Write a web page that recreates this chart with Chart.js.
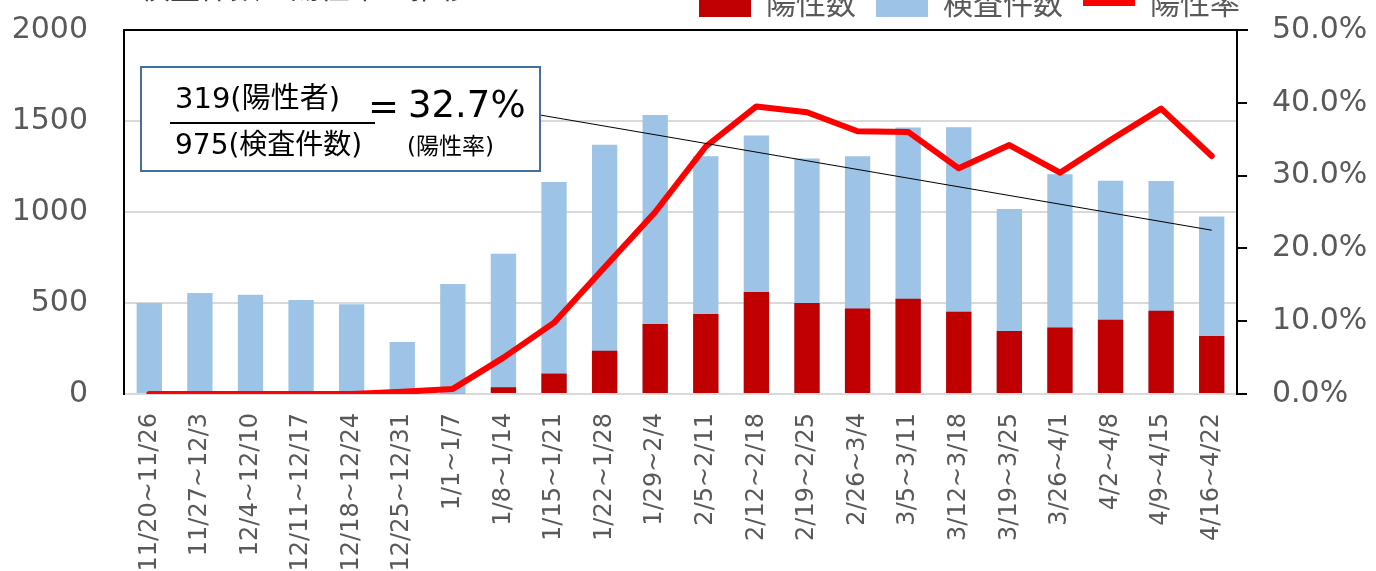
<!DOCTYPE html>
<html>
<head>
<meta charset="utf-8">
<script src="https://cdn.jsdelivr.net/npm/chart.js@4"></script>
<style>
    html, body { margin: 0; padding: 0; background: #fff; overflow: hidden; }
    #wrap { position: absolute; left: 0; top: -40px; width: 1376px; height: 611px; }
</style>
</head>
<body>
<div id="wrap"><canvas id="chart" width="1376" height="611"></canvas></div>
<script>
const weeks = ['11/20~11/26', '11/27~12/3', '12/4~12/10', '12/11~12/17', '12/18~12/24', '12/25~12/31', '1/1~1/7', '1/8~1/14', '1/15~1/21', '1/22~1/28', '1/29~2/4', '2/5~2/11', '2/12~2/18', '2/19~2/25', '2/26~3/4', '3/5~3/11', '3/12~3/18', '3/19~3/25', '3/26~4/1', '4/2~4/8', '4/9~4/15', '4/16~4/22'];
const positives = [0, 0, 0, 0, 0, 1, 4, 37, 112, 238, 385, 440, 560, 500, 470, 523, 452, 346, 366, 408, 457, 319];
const tests = [500, 555, 546, 516, 493, 286, 604, 771, 1165, 1369, 1533, 1306, 1420, 1294, 1306, 1464, 1466, 1016, 1208, 1172, 1170, 975];
const rate = [0, 0, 0, 0, 0, 0.3, 0.7, 5.0, 9.8, 17.4, 25.0, 34.0, 39.5, 38.7, 36.1, 36.0, 31.0, 34.2, 30.4, 34.9, 39.2, 32.7];
const leftTicks = [0, 500, 1000, 1500, 2000];
const rightTicks = [0, 10, 20, 30, 40, 50];

const gray = '#595959';
const jp = "'Noto Sans CJK JP', sans-serif";
const mixed = "'DejaVu Sans', 'Noto Sans CJK JP', sans-serif";

// title, top frame line, formula box and its pointer line
const extras = {
    id: 'extras',
    afterLayout(chart) {
        // legend sits a bit further right and higher than the layout puts it
        chart.legend.left += 23;
        chart.legend.right += 23;
        chart.legend.top -= 2;
        chart.legend.bottom -= 2;
    },
    afterDraw(chart) {
        const { ctx, chartArea: a, scales } = chart;
        ctx.save();
        ctx.fillStyle = '#404040';
        ctx.font = '30px ' + jp;
        ctx.textBaseline = 'alphabetic';
        ctx.fillText('検査件数と陽性率の推移', 140, 38);

        ctx.strokeStyle = '#000';
        ctx.lineWidth = 2;
        ctx.beginPath();
        ctx.moveTo(a.left, a.top);
        ctx.lineTo(a.right + 11, a.top);
        ctx.stroke();

        const bx = a.left + 17, by = a.top + 37, bw = 399, bh = 104;
        ctx.lineWidth = 1;
        ctx.beginPath();
        ctx.moveTo(bx + bw, by + 48);
        ctx.lineTo(scales.x.getPixelForValue(weeks.length - 1), scales.y.getPixelForValue(900));
        ctx.stroke();

        ctx.fillStyle = '#fff';
        ctx.fillRect(bx, by, bw, bh);
        ctx.strokeStyle = '#41719C';
        ctx.lineWidth = 2;
        ctx.strokeRect(bx, by, bw, bh);

        ctx.fillStyle = '#000';
        ctx.textBaseline = 'middle';
        ctx.font = '29px ' + mixed;
        ctx.fillText('319(陽性者)', bx + 34, by + 33);
        ctx.font = '28px ' + mixed;
        ctx.fillText('975(検査件数)', bx + 34, by + 80);
        ctx.strokeStyle = '#000';
        ctx.lineWidth = 2;
        ctx.beginPath();
        ctx.moveTo(bx + 29, by + 56);
        ctx.lineTo(bx + 234, by + 56);
        ctx.stroke();
        ctx.font = '37px ' + mixed;
        ctx.fillText('=', bx + 227, by + 42);
        ctx.fillText('32.7%', bx + 267, by + 40);
        ctx.font = '23px ' + mixed;
        ctx.fillText('(陽性率)', bx + 266, by + 81);
        ctx.restore();
    }
};

new Chart(document.getElementById('chart'), {
    type: 'bar',
    data: {
        labels: weeks,
        datasets: [{
            label: '陽性数',
            data: positives,
            backgroundColor: '#C00000',
            grouped: false,
            categoryPercentage: 1,
            barPercentage: 0.5,
            yAxisID: 'y'
        }, {
            label: '検査件数',
            data: tests,
            backgroundColor: '#9DC3E6',
            grouped: false,
            categoryPercentage: 1,
            barPercentage: 0.5,
            yAxisID: 'y'
        }, {
            type: 'line',
            label: '陽性率',
            data: rate,
            borderColor: '#FF0000',
            backgroundColor: '#FF0000',
            borderWidth: 6,
            borderCapStyle: 'round',
            borderJoinStyle: 'round',
            pointRadius: 0,
            tension: 0,
            order: -1,
            yAxisID: 'y1'
        }]
    },
    options: {
        responsive: false,
        devicePixelRatio: 1,
        animation: false,
        layout: { padding: { top: 10, left: 0, right: 0, bottom: 0 } },
        plugins: {
            tooltip: { enabled: false },
            legend: {
                position: 'top',
                align: 'end',
                fullSize: false,
                labels: {
                    color: gray,
                    font: { size: 30, family: jp },
                    usePointStyle: true,
                    pointStyleWidth: 52,
                    boxHeight: 28,
                    padding: 20,
                    sort: (a, b) => a.datasetIndex - b.datasetIndex,
                    generateLabels: (chart) => {
                        const items = Chart.defaults.plugins.legend.labels.generateLabels(chart);
                        items.forEach(it => {
                            it.pointStyle = it.datasetIndex === 2 ? 'line' : 'rect';
                            if (it.datasetIndex !== 2) it.lineWidth = 0;
                        });
                        return items;
                    }
                }
            }
        },
        scales: {
            x: {
                grid: { display: false, drawTicks: false },
                border: { color: '#D9D9D9', width: 2 },
                ticks: {
                    color: gray,
                    font: { size: 24, family: 'DejaVu Sans' },
                    minRotation: 90,
                    maxRotation: 90,
                    autoSkip: false,
                    padding: 19
                },
                afterFit: (s) => { s.height = 177; }
            },
            y: {
                position: 'left',
                min: 0,
                max: 2000,
                afterBuildTicks: (s) => { s.ticks = leftTicks.map(v => ({ value: v })); },
                grid: { color: '#D9D9D9', lineWidth: 2, drawTicks: false },
                border: { color: '#000', width: 2 },
                ticks: {
                    color: gray,
                    font: { size: 30, family: 'DejaVu Sans' },
                    padding: 36,
                    callback: (v) => String(v)
                },
                afterFit: (s) => { s.width = 124; }
            },
            y1: {
                position: 'right',
                min: 0,
                max: 50,
                afterBuildTicks: (s) => { s.ticks = rightTicks.map(v => ({ value: v })); },
                grid: { drawOnChartArea: false, color: '#000', lineWidth: 2, tickLength: 10 },
                border: { color: '#000', width: 2 },
                ticks: {
                    color: gray,
                    font: { size: 30, family: 'DejaVu Sans' },
                    padding: 25,
                    callback: (v) => v.toFixed(1) + '%'
                },
                afterFit: (s) => { s.width = 139; }
            }
        }
    },
    plugins: [extras]
});
</script>
</body>
</html>
